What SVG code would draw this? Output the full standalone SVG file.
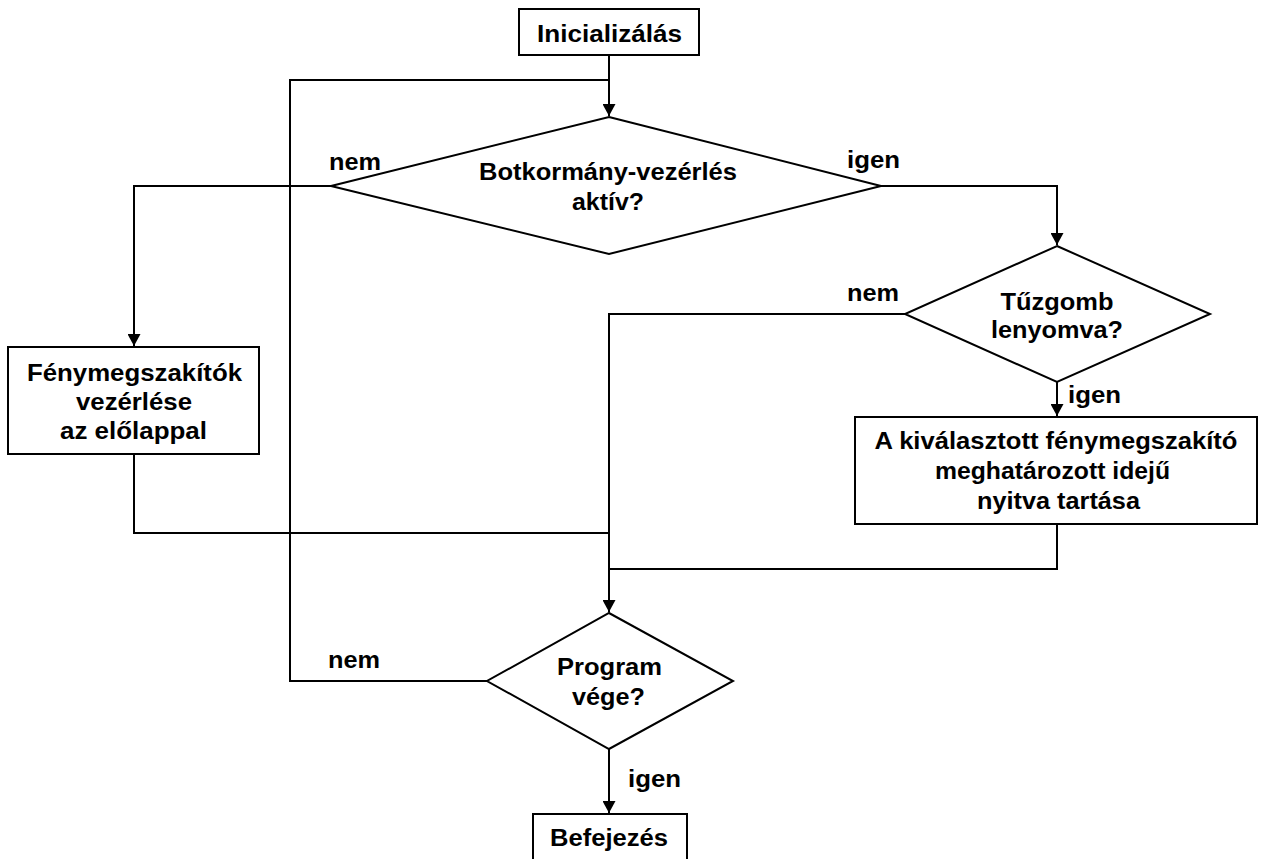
<svg xmlns="http://www.w3.org/2000/svg" width="1266" height="859" viewBox="0 0 1266 859">
<style>
.shape{fill:#fff;stroke:#000;stroke-width:2}
.conn{fill:none;stroke:#000;stroke-width:2}
text{font-family:"Liberation Sans",Arial,sans-serif;font-weight:bold;font-size:23px;fill:#000}
.c{text-anchor:middle}
</style>
<defs>
<marker id="arr" viewBox="0 0 12 13" refX="12" refY="6.5" markerWidth="12" markerHeight="13" markerUnits="userSpaceOnUse" orient="auto">
<path d="M0,0 L12,6.5 L0,13 z" fill="#000"/>
</marker>
</defs>
<rect width="1266" height="859" fill="#fff"/>
<g id="connectors">
<path class="conn" d="M609,55 V116" marker-end="url(#arr)"/>
<path class="conn" d="M487,681 H290 V80 H609"/>
<path class="conn" d="M331,186 H134 V346" marker-end="url(#arr)"/>
<path class="conn" d="M881,186 H1057 V245" marker-end="url(#arr)"/>
<path class="conn" d="M905,314 H609 V612" marker-end="url(#arr)"/>
<path class="conn" d="M1057,382 V416" marker-end="url(#arr)"/>
<path class="conn" d="M134,454 V533 H609"/>
<path class="conn" d="M1057,524 V569 H609"/>
<path class="conn" d="M609,749 V813" marker-end="url(#arr)"/>
<text x="329" y="170" textLength="52" lengthAdjust="spacingAndGlyphs">nem</text>
<text x="847" y="168" textLength="53" lengthAdjust="spacingAndGlyphs">igen</text>
<text x="847" y="301" textLength="52" lengthAdjust="spacingAndGlyphs">nem</text>
<text x="1068" y="403" textLength="53" lengthAdjust="spacingAndGlyphs">igen</text>
<text x="328" y="668" textLength="52" lengthAdjust="spacingAndGlyphs">nem</text>
<text x="628" y="787" textLength="53" lengthAdjust="spacingAndGlyphs">igen</text>
</g>
<g id="init">
<rect class="shape" x="519" y="9" width="180" height="46"/>
<text class="c" x="609.5" y="42" textLength="145" lengthAdjust="spacingAndGlyphs">Inicializálás</text>
</g>
<g id="botkormany">
<polygon class="shape" points="609,117 881,186 609,254 331,186"/>
<text class="c" x="608" y="180" textLength="258" lengthAdjust="spacingAndGlyphs">Botkormány-vezérlés</text>
<text class="c" x="608" y="210" textLength="72" lengthAdjust="spacingAndGlyphs">aktív?</text>
</g>
<g id="fenymegszakitok">
<rect class="shape" x="8" y="347" width="251" height="107"/>
<text class="c" x="134.5" y="381" textLength="215" lengthAdjust="spacingAndGlyphs">Fénymegszakítók</text>
<text class="c" x="134" y="410" textLength="116" lengthAdjust="spacingAndGlyphs">vezérlése</text>
<text class="c" x="133.5" y="439" textLength="147" lengthAdjust="spacingAndGlyphs">az előlappal</text>
</g>
<g id="tuzgomb">
<polygon class="shape" points="1057,246 1210,314 1057,382 905,314"/>
<text class="c" x="1057" y="310" textLength="113" lengthAdjust="spacingAndGlyphs">Tűzgomb</text>
<text class="c" x="1057" y="338" textLength="132" lengthAdjust="spacingAndGlyphs">lenyomva?</text>
</g>
<g id="kivalasztott">
<rect class="shape" x="855" y="417" width="402" height="107"/>
<text class="c" x="1056" y="449" textLength="363" lengthAdjust="spacingAndGlyphs">A kiválasztott fénymegszakító</text>
<text class="c" x="1052.5" y="479" textLength="235" lengthAdjust="spacingAndGlyphs">meghatározott idejű</text>
<text class="c" x="1058.5" y="509" textLength="163" lengthAdjust="spacingAndGlyphs">nyitva tartása</text>
</g>
<g id="programvege">
<polygon class="shape" points="609,613 733,681 609,749 487,681"/>
<text class="c" x="609.5" y="675" textLength="105" lengthAdjust="spacingAndGlyphs">Program</text>
<text class="c" x="608.5" y="705" textLength="73" lengthAdjust="spacingAndGlyphs">vége?</text>
</g>
<g id="befejezes">
<rect class="shape" x="533" y="814" width="154" height="60"/>
<text class="c" x="609" y="846" textLength="118" lengthAdjust="spacingAndGlyphs">Befejezés</text>
</g>
</svg>
